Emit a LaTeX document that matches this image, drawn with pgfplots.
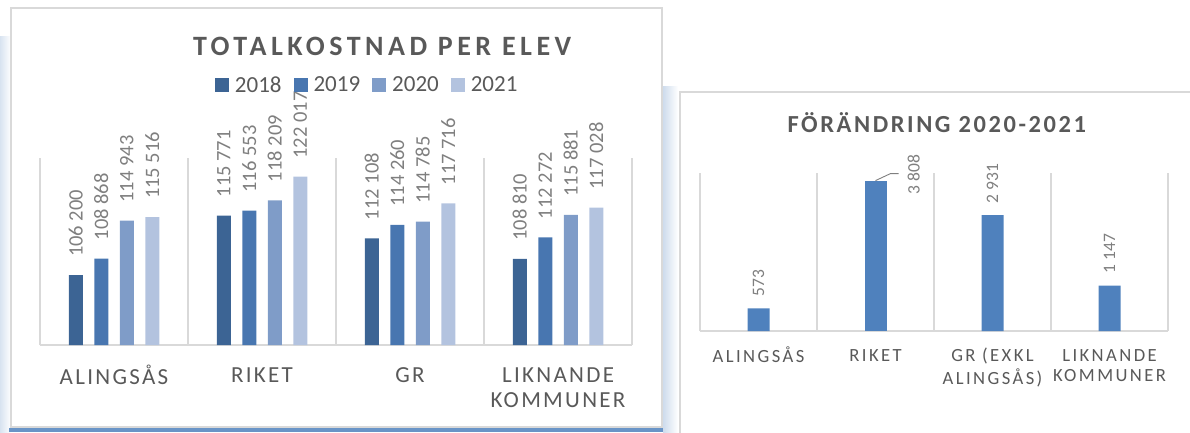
\documentclass[border=0pt]{standalone}
\usepackage{fontspec}
\setmainfont{Carlito}
\usepackage{pgfplots}
\usepackage{pgfplotstable}
\pgfplotsset{compat=1.18}
\pgfkeys{/pgf/number format/assume math mode=true}
\definecolor{cA}{HTML}{3C6494}
\definecolor{cB}{HTML}{4876B0}
\definecolor{cC}{HTML}{7F9CC8}
\definecolor{cD}{HTML}{B3C3DF}
\definecolor{cR}{HTML}{4F81BD}
\definecolor{gridc}{HTML}{D9D9D9}
\definecolor{lbl}{HTML}{7F7F7F}
\definecolor{txt}{HTML}{595959}

\pgfplotstableread{
x y18 y19 y20 y21
0 106200 108868 114943 115516
1 115771 116553 118209 122017
2 112108 114260 114785 117716
3 108810 112272 115881 117028
}\tabLeft
\pgfplotstableread{
x d
0 573
2 2931
3 1147
}\tabRight
\pgfplotstableread{
x d
1 3808
}\tabRiket

\pgfplotsset{
  sq/.style={legend image code/.code={\fill[##1] (0pt,-7pt) rectangle (14pt,7pt);}},
}

\begin{document}
\begin{tikzpicture}[x=1pt,y=1pt]
\useasboundingbox (0,0) rectangle (1190,432);
% frames and shadows
\shade[left color=cR!22, right color=white] (0,0) rectangle (11,395);
\fill[cR!85] (9,0) rectangle (664,4.5);
\draw[gridc, line width=1.2pt] (11,5) rectangle (662,424);
\shade[left color=cR!28, right color=white] (663,0) rectangle (678,345);
\draw[gridc, line width=1.2pt] (1195,340) -- (680,340) -- (680,-2);

% ---------------- left chart
\begin{axis}[
  at={(40pt,87pt)}, anchor=south west, scale only axis,
  width=592pt, height=187pt,
  xmin=-0.5, xmax=3.5, ymin=95000, ymax=125000,
  scaled y ticks=false,
  ybar=11.5pt, bar width=14pt,
  axis line style={draw=none},
  xtick={0,1,2,3},
  xticklabels={\strut ALINGSÅS,\strut RIKET,\strut GR,{\strut LIKNANDE\\KOMMUNER}},
  minor xtick={-0.5,0.5,1.5,2.5,3.5}, xminorgrids=true,
  ytick={95000}, yticklabels={}, ymajorgrids=true,
  major grid style={gridc, line width=1.4pt},
  minor grid style={gridc, line width=1.2pt},
  major tick length=0pt, minor tick length=0pt,
  xticklabel style={align=center, anchor=north, inner sep=0pt, yshift=-20pt,
    font=\fontsize{23}{25}\selectfont\addfontfeature{LetterSpace=10}, text=txt},
  title={TOTALKOSTNAD PER ELEV},
  title style={at={(0.578,1.564)}, anchor=center, inner sep=0pt,
    font=\fontsize{28}{34}\selectfont\bfseries\addfontfeature{LetterSpace=16}, text=txt},
  legend columns=4,
  legend style={at={(0.551,1.39)}, anchor=center, draw=none, fill=none,
    font=\fontsize{23}{27}\selectfont, text=txt, inner sep=0pt,
    nodes={inner sep=0pt},
    /tikz/every even column/.append style={column sep=12pt},
    /tikz/every odd column/.append style={column sep=6pt}},
  point meta=y,
  nodes near coords={\pgfmathprintnumber[fixed,precision=0,1000 sep={\ }]{\pgfplotspointmeta}},
  nodes near coords style={rotate=90, anchor=west, inner ysep=0pt, inner xsep=18pt,
    font=\fontsize{20.5}{24}\selectfont, text=lbl},
]
\addplot[fill=cA, draw=none, sq] table[x=x, y=y18] {\tabLeft};
\addlegendentry{2018}
\addplot[fill=cB, draw=none, sq] table[x=x, y=y19] {\tabLeft};
\addlegendentry{2019}
\addplot[fill=cC, draw=none, sq] table[x=x, y=y20] {\tabLeft};
\addlegendentry{2020}
\addplot[fill=cD, draw=none, sq] table[x=x, y=y21] {\tabLeft};
\addlegendentry{2021}
\end{axis}

% ---------------- right chart
\begin{axis}[
  at={(700pt,101pt)}, anchor=south west, scale only axis,
  width=468pt, height=158pt,
  xmin=-0.5, xmax=3.5, ymin=0, ymax=4000,
  scaled y ticks=false,
  ybar, bar width=22pt,
  axis line style={draw=none},
  xtick={0,1,2,3},
  xticklabels={\strut ALINGSÅS,\strut RIKET,{\strut GR (EXKL\\ALINGSÅS)},{\strut LIKNANDE\\KOMMUNER}},
  minor xtick={-0.5,0.5,1.5,2.5,3.5}, xminorgrids=true,
  ytick={0}, yticklabels={}, ymajorgrids=true,
  major grid style={gridc, line width=1.4pt},
  minor grid style={gridc, line width=1.2pt},
  major tick length=0pt, minor tick length=0pt,
  xticklabel style={align=center, anchor=north, inner sep=0pt, yshift=-15.6pt,
    font=\fontsize{18.6}{20.5}\selectfont\addfontfeature{LetterSpace=13}, text=txt},
  title={FÖRÄNDRING 2020-2021},
  title style={at={(0.506,1.279)}, anchor=center, inner sep=0pt,
    font=\fontsize{24.5}{29}\selectfont\bfseries\addfontfeature{LetterSpace=10.5}, text=txt},
  point meta=y,
]
\addplot[fill=cR, draw=none, bar shift=0pt,
  nodes near coords={\pgfmathprintnumber[fixed,precision=0,1000 sep={\ }]{\pgfplotspointmeta}},
  nodes near coords style={rotate=90, anchor=west, inner ysep=0pt, inner xsep=12pt,
    font=\fontsize{17.5}{21}\selectfont, text=lbl}]
  table[x=x, y=d] {\tabRight};
\addplot[fill=cR, draw=none, bar shift=0pt,
  nodes near coords={\hspace*{12pt}\pgfmathprintnumber[fixed,precision=0,1000 sep={\ }]{\pgfplotspointmeta}},
  nodes near coords style={rotate=90, anchor=north, inner xsep=0pt, inner ysep=32pt,
    font=\fontsize{17.5}{21}\selectfont, text=lbl}]
  table[x=x, y=d] {\tabRiket};
\draw[lbl, line width=0.9pt] (axis cs:1,3808) -- ++(15pt,7pt) -- ++(8pt,0pt);
\end{axis}
\end{tikzpicture}
\end{document}
